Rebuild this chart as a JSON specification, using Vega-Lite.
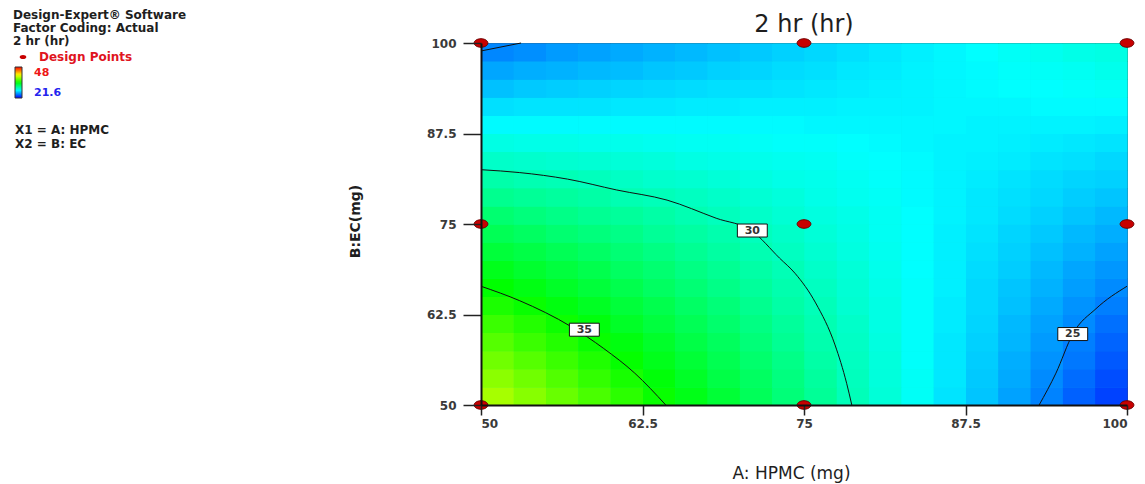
{
  "$schema": "https://vega.github.io/schema/vega-lite/v6.json",
  "width": 646,
  "height": 362,
  "autosize": {"type": "none"},
  "padding": {"left": 481, "top": 43, "right": 18, "bottom": 79},
  "background": "white",
  "title": {"text": "2 hr (hr)", "font": "DejaVu Sans", "fontSize": 24, "fontWeight": "normal", "color": "#1e1e1e", "anchor": "middle", "offset": 10, "dy": 37},
  "config": {
    "view": {"stroke": "#444", "strokeWidth": 1, "fill": "#10e0d0"},
    "axis": {"grid": false, "domainColor": "#111", "domainWidth": 2, "tickColor": "#222", "tickWidth": 1.5, "labelFont": "DejaVu Sans", "labelFontWeight": "bold", "labelFontSize": 12, "labelColor": "#3a3a3a", "titleColor": "#1e1e1e"}
  },
  "datasets": {
    "grid": [
        {"x":50,"y":50,"v":39.1},{"x":52.5,"y":50,"v":38.3},{"x":55,"y":50,"v":37.5},{"x":57.5,"y":50,"v":36.7},{"x":60,"y":50,"v":35.9},{"x":62.5,"y":50,"v":35.0},{"x":65,"y":50,"v":34.2},{"x":67.5,"y":50,"v":33.4},{"x":70,"y":50,"v":32.5},{"x":72.5,"y":50,"v":31.7},{"x":75,"y":50,"v":30.9},{"x":77.5,"y":50,"v":30.0},{"x":80,"y":50,"v":29.2},{"x":82.5,"y":50,"v":28.4},{"x":85,"y":50,"v":27.5},{"x":87.5,"y":50,"v":26.7},{"x":90,"y":50,"v":25.8},{"x":92.5,"y":50,"v":25.0},{"x":95,"y":50,"v":24.1},{"x":97.5,"y":50,"v":23.3},
        {"x":50,"y":52.5,"v":38.4},{"x":52.5,"y":52.5,"v":37.7},{"x":55,"y":52.5,"v":36.9},{"x":57.5,"y":52.5,"v":36.1},{"x":60,"y":52.5,"v":35.4},{"x":62.5,"y":52.5,"v":34.6},{"x":65,"y":52.5,"v":33.8},{"x":67.5,"y":52.5,"v":33.0},{"x":70,"y":52.5,"v":32.3},{"x":72.5,"y":52.5,"v":31.5},{"x":75,"y":52.5,"v":30.7},{"x":77.5,"y":52.5,"v":29.9},{"x":80,"y":52.5,"v":29.1},{"x":82.5,"y":52.5,"v":28.4},{"x":85,"y":52.5,"v":27.6},{"x":87.5,"y":52.5,"v":26.8},{"x":90,"y":52.5,"v":26.0},{"x":92.5,"y":52.5,"v":25.2},{"x":95,"y":52.5,"v":24.4},{"x":97.5,"y":52.5,"v":23.6},
        {"x":50,"y":55,"v":37.7},{"x":52.5,"y":55,"v":37.0},{"x":55,"y":55,"v":36.3},{"x":57.5,"y":55,"v":35.6},{"x":60,"y":55,"v":34.9},{"x":62.5,"y":55,"v":34.1},{"x":65,"y":55,"v":33.4},{"x":67.5,"y":55,"v":32.7},{"x":70,"y":55,"v":32.0},{"x":72.5,"y":55,"v":31.3},{"x":75,"y":55,"v":30.5},{"x":77.5,"y":55,"v":29.8},{"x":80,"y":55,"v":29.1},{"x":82.5,"y":55,"v":28.3},{"x":85,"y":55,"v":27.6},{"x":87.5,"y":55,"v":26.9},{"x":90,"y":55,"v":26.1},{"x":92.5,"y":55,"v":25.4},{"x":95,"y":55,"v":24.7},{"x":97.5,"y":55,"v":23.9},
        {"x":50,"y":57.5,"v":37.0},{"x":52.5,"y":57.5,"v":36.3},{"x":55,"y":57.5,"v":35.7},{"x":57.5,"y":57.5,"v":35.0},{"x":60,"y":57.5,"v":34.4},{"x":62.5,"y":57.5,"v":33.7},{"x":65,"y":57.5,"v":33.0},{"x":67.5,"y":57.5,"v":32.4},{"x":70,"y":57.5,"v":31.7},{"x":72.5,"y":57.5,"v":31.0},{"x":75,"y":57.5,"v":30.3},{"x":77.5,"y":57.5,"v":29.7},{"x":80,"y":57.5,"v":29.0},{"x":82.5,"y":57.5,"v":28.3},{"x":85,"y":57.5,"v":27.6},{"x":87.5,"y":57.5,"v":27.0},{"x":90,"y":57.5,"v":26.3},{"x":92.5,"y":57.5,"v":25.6},{"x":95,"y":57.5,"v":24.9},{"x":97.5,"y":57.5,"v":24.2},
        {"x":50,"y":60,"v":36.3},{"x":52.5,"y":60,"v":35.7},{"x":55,"y":60,"v":35.1},{"x":57.5,"y":60,"v":34.5},{"x":60,"y":60,"v":33.8},{"x":62.5,"y":60,"v":33.2},{"x":65,"y":60,"v":32.6},{"x":67.5,"y":60,"v":32.0},{"x":70,"y":60,"v":31.4},{"x":72.5,"y":60,"v":30.8},{"x":75,"y":60,"v":30.2},{"x":77.5,"y":60,"v":29.6},{"x":80,"y":60,"v":28.9},{"x":82.5,"y":60,"v":28.3},{"x":85,"y":60,"v":27.7},{"x":87.5,"y":60,"v":27.1},{"x":90,"y":60,"v":26.4},{"x":92.5,"y":60,"v":25.8},{"x":95,"y":60,"v":25.2},{"x":97.5,"y":60,"v":24.5},
        {"x":50,"y":62.5,"v":35.5},{"x":52.5,"y":62.5,"v":35.0},{"x":55,"y":62.5,"v":34.4},{"x":57.5,"y":62.5,"v":33.9},{"x":60,"y":62.5,"v":33.3},{"x":62.5,"y":62.5,"v":32.8},{"x":65,"y":62.5,"v":32.2},{"x":67.5,"y":62.5,"v":31.7},{"x":70,"y":62.5,"v":31.1},{"x":72.5,"y":62.5,"v":30.5},{"x":75,"y":62.5,"v":30.0},{"x":77.5,"y":62.5,"v":29.4},{"x":80,"y":62.5,"v":28.9},{"x":82.5,"y":62.5,"v":28.3},{"x":85,"y":62.5,"v":27.7},{"x":87.5,"y":62.5,"v":27.2},{"x":90,"y":62.5,"v":26.6},{"x":92.5,"y":62.5,"v":26.0},{"x":95,"y":62.5,"v":25.4},{"x":97.5,"y":62.5,"v":24.9},
        {"x":50,"y":65,"v":34.8},{"x":52.5,"y":65,"v":34.3},{"x":55,"y":65,"v":33.8},{"x":57.5,"y":65,"v":33.3},{"x":60,"y":65,"v":32.8},{"x":62.5,"y":65,"v":32.3},{"x":65,"y":65,"v":31.8},{"x":67.5,"y":65,"v":31.3},{"x":70,"y":65,"v":30.8},{"x":72.5,"y":65,"v":30.3},{"x":75,"y":65,"v":29.8},{"x":77.5,"y":65,"v":29.3},{"x":80,"y":65,"v":28.8},{"x":82.5,"y":65,"v":28.3},{"x":85,"y":65,"v":27.8},{"x":87.5,"y":65,"v":27.2},{"x":90,"y":65,"v":26.7},{"x":92.5,"y":65,"v":26.2},{"x":95,"y":65,"v":25.7},{"x":97.5,"y":65,"v":25.2},
        {"x":50,"y":67.5,"v":34.1},{"x":52.5,"y":67.5,"v":33.6},{"x":55,"y":67.5,"v":33.2},{"x":57.5,"y":67.5,"v":32.8},{"x":60,"y":67.5,"v":32.3},{"x":62.5,"y":67.5,"v":31.9},{"x":65,"y":67.5,"v":31.4},{"x":67.5,"y":67.5,"v":31.0},{"x":70,"y":67.5,"v":30.5},{"x":72.5,"y":67.5,"v":30.1},{"x":75,"y":67.5,"v":29.6},{"x":77.5,"y":67.5,"v":29.2},{"x":80,"y":67.5,"v":28.7},{"x":82.5,"y":67.5,"v":28.2},{"x":85,"y":67.5,"v":27.8},{"x":87.5,"y":67.5,"v":27.3},{"x":90,"y":67.5,"v":26.9},{"x":92.5,"y":67.5,"v":26.4},{"x":95,"y":67.5,"v":25.9},{"x":97.5,"y":67.5,"v":25.5},
        {"x":50,"y":70,"v":33.3},{"x":52.5,"y":70,"v":33.0},{"x":55,"y":70,"v":32.6},{"x":57.5,"y":70,"v":32.2},{"x":60,"y":70,"v":31.8},{"x":62.5,"y":70,"v":31.4},{"x":65,"y":70,"v":31.0},{"x":67.5,"y":70,"v":30.6},{"x":70,"y":70,"v":30.2},{"x":72.5,"y":70,"v":29.8},{"x":75,"y":70,"v":29.4},{"x":77.5,"y":70,"v":29.0},{"x":80,"y":70,"v":28.6},{"x":82.5,"y":70,"v":28.2},{"x":85,"y":70,"v":27.8},{"x":87.5,"y":70,"v":27.4},{"x":90,"y":70,"v":27.0},{"x":92.5,"y":70,"v":26.6},{"x":95,"y":70,"v":26.2},{"x":97.5,"y":70,"v":25.8},
        {"x":50,"y":72.5,"v":32.6},{"x":52.5,"y":72.5,"v":32.3},{"x":55,"y":72.5,"v":31.9},{"x":57.5,"y":72.5,"v":31.6},{"x":60,"y":72.5,"v":31.3},{"x":62.5,"y":72.5,"v":30.9},{"x":65,"y":72.5,"v":30.6},{"x":67.5,"y":72.5,"v":30.3},{"x":70,"y":72.5,"v":29.9},{"x":72.5,"y":72.5,"v":29.6},{"x":75,"y":72.5,"v":29.2},{"x":77.5,"y":72.5,"v":28.9},{"x":80,"y":72.5,"v":28.5},{"x":82.5,"y":72.5,"v":28.2},{"x":85,"y":72.5,"v":27.8},{"x":87.5,"y":72.5,"v":27.5},{"x":90,"y":72.5,"v":27.1},{"x":92.5,"y":72.5,"v":26.8},{"x":95,"y":72.5,"v":26.4},{"x":97.5,"y":72.5,"v":26.1},
        {"x":50,"y":75,"v":31.9},{"x":52.5,"y":75,"v":31.6},{"x":55,"y":75,"v":31.3},{"x":57.5,"y":75,"v":31.0},{"x":60,"y":75,"v":30.8},{"x":62.5,"y":75,"v":30.5},{"x":65,"y":75,"v":30.2},{"x":67.5,"y":75,"v":29.9},{"x":70,"y":75,"v":29.6},{"x":72.5,"y":75,"v":29.3},{"x":75,"y":75,"v":29.0},{"x":77.5,"y":75,"v":28.8},{"x":80,"y":75,"v":28.5},{"x":82.5,"y":75,"v":28.2},{"x":85,"y":75,"v":27.9},{"x":87.5,"y":75,"v":27.6},{"x":90,"y":75,"v":27.3},{"x":92.5,"y":75,"v":27.0},{"x":95,"y":75,"v":26.7},{"x":97.5,"y":75,"v":26.4},
        {"x":50,"y":77.5,"v":31.1},{"x":52.5,"y":77.5,"v":30.9},{"x":55,"y":77.5,"v":30.7},{"x":57.5,"y":77.5,"v":30.5},{"x":60,"y":77.5,"v":30.2},{"x":62.5,"y":77.5,"v":30.0},{"x":65,"y":77.5,"v":29.8},{"x":67.5,"y":77.5,"v":29.6},{"x":70,"y":77.5,"v":29.3},{"x":72.5,"y":77.5,"v":29.1},{"x":75,"y":77.5,"v":28.8},{"x":77.5,"y":77.5,"v":28.6},{"x":80,"y":77.5,"v":28.4},{"x":82.5,"y":77.5,"v":28.1},{"x":85,"y":77.5,"v":27.9},{"x":87.5,"y":77.5,"v":27.6},{"x":90,"y":77.5,"v":27.4},{"x":92.5,"y":77.5,"v":27.2},{"x":95,"y":77.5,"v":26.9},{"x":97.5,"y":77.5,"v":26.7},
        {"x":50,"y":80,"v":30.4},{"x":52.5,"y":80,"v":30.2},{"x":55,"y":80,"v":30.1},{"x":57.5,"y":80,"v":29.9},{"x":60,"y":80,"v":29.7},{"x":62.5,"y":80,"v":29.5},{"x":65,"y":80,"v":29.4},{"x":67.5,"y":80,"v":29.2},{"x":70,"y":80,"v":29.0},{"x":72.5,"y":80,"v":28.8},{"x":75,"y":80,"v":28.7},{"x":77.5,"y":80,"v":28.5},{"x":80,"y":80,"v":28.3},{"x":82.5,"y":80,"v":28.1},{"x":85,"y":80,"v":27.9},{"x":87.5,"y":80,"v":27.7},{"x":90,"y":80,"v":27.5},{"x":92.5,"y":80,"v":27.3},{"x":95,"y":80,"v":27.1},{"x":97.5,"y":80,"v":27.0},
        {"x":50,"y":82.5,"v":29.6},{"x":52.5,"y":82.5,"v":29.5},{"x":55,"y":82.5,"v":29.4},{"x":57.5,"y":82.5,"v":29.3},{"x":60,"y":82.5,"v":29.2},{"x":62.5,"y":82.5,"v":29.1},{"x":65,"y":82.5,"v":28.9},{"x":67.5,"y":82.5,"v":28.8},{"x":70,"y":82.5,"v":28.7},{"x":72.5,"y":82.5,"v":28.6},{"x":75,"y":82.5,"v":28.5},{"x":77.5,"y":82.5,"v":28.3},{"x":80,"y":82.5,"v":28.2},{"x":82.5,"y":82.5,"v":28.1},{"x":85,"y":82.5,"v":27.9},{"x":87.5,"y":82.5,"v":27.8},{"x":90,"y":82.5,"v":27.7},{"x":92.5,"y":82.5,"v":27.5},{"x":95,"y":82.5,"v":27.4},{"x":97.5,"y":82.5,"v":27.2},
        {"x":50,"y":85,"v":28.9},{"x":52.5,"y":85,"v":28.8},{"x":55,"y":85,"v":28.8},{"x":57.5,"y":85,"v":28.7},{"x":60,"y":85,"v":28.7},{"x":62.5,"y":85,"v":28.6},{"x":65,"y":85,"v":28.5},{"x":67.5,"y":85,"v":28.5},{"x":70,"y":85,"v":28.4},{"x":72.5,"y":85,"v":28.3},{"x":75,"y":85,"v":28.3},{"x":77.5,"y":85,"v":28.2},{"x":80,"y":85,"v":28.1},{"x":82.5,"y":85,"v":28.0},{"x":85,"y":85,"v":27.9},{"x":87.5,"y":85,"v":27.9},{"x":90,"y":85,"v":27.8},{"x":92.5,"y":85,"v":27.7},{"x":95,"y":85,"v":27.6},{"x":97.5,"y":85,"v":27.5},
        {"x":50,"y":87.5,"v":28.1},{"x":52.5,"y":87.5,"v":28.1},{"x":55,"y":87.5,"v":28.1},{"x":57.5,"y":87.5,"v":28.1},{"x":60,"y":87.5,"v":28.1},{"x":62.5,"y":87.5,"v":28.1},{"x":65,"y":87.5,"v":28.1},{"x":67.5,"y":87.5,"v":28.1},{"x":70,"y":87.5,"v":28.1},{"x":72.5,"y":87.5,"v":28.1},{"x":75,"y":87.5,"v":28.0},{"x":77.5,"y":87.5,"v":28.0},{"x":80,"y":87.5,"v":28.0},{"x":82.5,"y":87.5,"v":28.0},{"x":85,"y":87.5,"v":28.0},{"x":87.5,"y":87.5,"v":27.9},{"x":90,"y":87.5,"v":27.9},{"x":92.5,"y":87.5,"v":27.9},{"x":95,"y":87.5,"v":27.9},{"x":97.5,"y":87.5,"v":27.8},
        {"x":50,"y":90,"v":27.4},{"x":52.5,"y":90,"v":27.5},{"x":55,"y":90,"v":27.5},{"x":57.5,"y":90,"v":27.5},{"x":60,"y":90,"v":27.6},{"x":62.5,"y":90,"v":27.6},{"x":65,"y":90,"v":27.7},{"x":67.5,"y":90,"v":27.7},{"x":70,"y":90,"v":27.8},{"x":72.5,"y":90,"v":27.8},{"x":75,"y":90,"v":27.8},{"x":77.5,"y":90,"v":27.9},{"x":80,"y":90,"v":27.9},{"x":82.5,"y":90,"v":27.9},{"x":85,"y":90,"v":28.0},{"x":87.5,"y":90,"v":28.0},{"x":90,"y":90,"v":28.0},{"x":92.5,"y":90,"v":28.1},{"x":95,"y":90,"v":28.1},{"x":97.5,"y":90,"v":28.1},
        {"x":50,"y":92.5,"v":26.6},{"x":52.5,"y":92.5,"v":26.8},{"x":55,"y":92.5,"v":26.9},{"x":57.5,"y":92.5,"v":27.0},{"x":60,"y":92.5,"v":27.1},{"x":62.5,"y":92.5,"v":27.2},{"x":65,"y":92.5,"v":27.3},{"x":67.5,"y":92.5,"v":27.4},{"x":70,"y":92.5,"v":27.4},{"x":72.5,"y":92.5,"v":27.5},{"x":75,"y":92.5,"v":27.6},{"x":77.5,"y":92.5,"v":27.7},{"x":80,"y":92.5,"v":27.8},{"x":82.5,"y":92.5,"v":27.9},{"x":85,"y":92.5,"v":28.0},{"x":87.5,"y":92.5,"v":28.1},{"x":90,"y":92.5,"v":28.2},{"x":92.5,"y":92.5,"v":28.2},{"x":95,"y":92.5,"v":28.3},{"x":97.5,"y":92.5,"v":28.4},
        {"x":50,"y":95,"v":25.9},{"x":52.5,"y":95,"v":26.1},{"x":55,"y":95,"v":26.2},{"x":57.5,"y":95,"v":26.4},{"x":60,"y":95,"v":26.5},{"x":62.5,"y":95,"v":26.7},{"x":65,"y":95,"v":26.8},{"x":67.5,"y":95,"v":27.0},{"x":70,"y":95,"v":27.1},{"x":72.5,"y":95,"v":27.3},{"x":75,"y":95,"v":27.4},{"x":77.5,"y":95,"v":27.6},{"x":80,"y":95,"v":27.7},{"x":82.5,"y":95,"v":27.9},{"x":85,"y":95,"v":28.0},{"x":87.5,"y":95,"v":28.1},{"x":90,"y":95,"v":28.3},{"x":92.5,"y":95,"v":28.4},{"x":95,"y":95,"v":28.5},{"x":97.5,"y":95,"v":28.7},
        {"x":50,"y":97.5,"v":25.1},{"x":52.5,"y":97.5,"v":25.3},{"x":55,"y":97.5,"v":25.6},{"x":57.5,"y":97.5,"v":25.8},{"x":60,"y":97.5,"v":26.0},{"x":62.5,"y":97.5,"v":26.2},{"x":65,"y":97.5,"v":26.4},{"x":67.5,"y":97.5,"v":26.6},{"x":70,"y":97.5,"v":26.8},{"x":72.5,"y":97.5,"v":27.0},{"x":75,"y":97.5,"v":27.2},{"x":77.5,"y":97.5,"v":27.4},{"x":80,"y":97.5,"v":27.6},{"x":82.5,"y":97.5,"v":27.8},{"x":85,"y":97.5,"v":28.0},{"x":87.5,"y":97.5,"v":28.2},{"x":90,"y":97.5,"v":28.4},{"x":92.5,"y":97.5,"v":28.6},{"x":95,"y":97.5,"v":28.8},{"x":97.5,"y":97.5,"v":28.9}
    ]
  },
  "layer": [
    {
      "data": {"name": "grid"},
      "mark": {"type": "rect", "strokeWidth": 0},
      "encoding": {
        "x": {"field": "x", "type": "quantitative", "bin": {"binned": true, "step": 2.5},
              "scale": {"domain": [50, 100], "nice": false, "zero": false},
              "axis": {"values": [50, 62.5, 75, 87.5, 100], "labelExpr": "toString(datum.value)", "tickSize": 10, "labelPadding": 3,
                       "title": "A: HPMC (mg)", "titleFont": "DejaVu Sans", "titleFontSize": 17, "titleFontWeight": "normal",
                       "titleX": 310, "titleY": 73, "titleBaseline": "alphabetic", "titleAnchor": null, "titleAlign": "center"}},
        "y": {"field": "y", "type": "quantitative", "bin": {"binned": true, "step": 2.5},
              "scale": {"domain": [50, 100], "nice": false, "zero": false},
              "axis": {"values": [50, 62.5, 75, 87.5, 100], "labelExpr": "toString(datum.value)", "tickSize": 18, "labelPadding": 7,
                       "title": "B:EC(mg)", "titleFont": "DejaVu Sans", "titleFontSize": 14, "titleFontWeight": "bold",
                       "titleX": -126, "titleY": 178, "titleBaseline": "middle", "titleAlign": "center", "titleAngle": 270}},
        "color": {"field": "v", "type": "quantitative",
                  "scale": {"domain": [21.6, 28.2, 34.8, 41.4, 48], "range": ["#0000ff", "#00ffff", "#00ff00", "#ffff00", "#ff0000"], "interpolate": "rgb"},
                  "legend": {"type": "gradient", "orient": "none", "legendX": -466, "legendY": 24, "direction": "vertical", "gradientLength": 31, "gradientThickness": 7,
                             "gradientStrokeColor": "#333", "gradientStrokeWidth": 1, "values": [21.6, 48], "labelExpr": "toString(datum.value)",
                             "labelFont": "DejaVu Sans", "labelFontWeight": "bold", "labelFontSize": 11, "labelOffset": 12, "labelOverlap": false,
                             "title": ["X1 = A: HPMC", "X2 = B: EC"], "titleOrient": "bottom", "titlePadding": 26,
                             "titleFont": "DejaVu Sans", "titleFontSize": 12, "titleFontWeight": "bold", "titleColor": "#1e1e1e", "titleLineHeight": 14,
                             "encode": {"labels": {"update": {"fill": {"signal": "datum.value > 30 ? '#ee1515' : '#2424ee'"}}}}}}
      }
    },
    {
      "data": {"name": "grid"},
      "mark": {"type": "rect", "strokeWidth": 0},
      "encoding": {
        "x": {"field": "x", "type": "quantitative", "bin": {"binned": true, "step": 2.5}},
        "y": {"field": "y", "type": "quantitative", "bin": {"binned": true, "step": 2.5}},
        "color": {"field": "v", "type": "quantitative"}
      }
    },
    {
      "data": {"values": [
        {"c": "30", "s": 1, "x": 50, "y": 82.5}, {"c": "30", "s": 2, "x": 53, "y": 82.1}, {"c": "30", "s": 3, "x": 56.7, "y": 81.2},
        {"c": "30", "s": 4, "x": 60.5, "y": 79.7}, {"c": "30", "s": 5, "x": 64.4, "y": 78.3}, {"c": "30", "s": 6, "x": 68.2, "y": 75.8},
        {"c": "30", "s": 7, "x": 71, "y": 74}, {"c": "30", "s": 8, "x": 73.1, "y": 70.3}, {"c": "30", "s": 9, "x": 74.3, "y": 68.2},
        {"c": "30", "s": 10, "x": 75.9, "y": 64.1}, {"c": "30", "s": 11, "x": 77.4, "y": 58.3}, {"c": "30", "s": 12, "x": 78.3, "y": 53},
        {"c": "30", "s": 13, "x": 78.7, "y": 50},
        {"c": "35", "s": 1, "x": 50, "y": 66.4}, {"c": "35", "s": 2, "x": 53, "y": 64.4}, {"c": "35", "s": 3, "x": 57, "y": 60.8},
        {"c": "35", "s": 4, "x": 59.5, "y": 57.8}, {"c": "35", "s": 5, "x": 61.9, "y": 54.4}, {"c": "35", "s": 6, "x": 64.3, "y": 50},
        {"c": "25a", "s": 1, "x": 93.2, "y": 50}, {"c": "25a", "s": 2, "x": 94.5, "y": 54.4}, {"c": "25a", "s": 3, "x": 95.8, "y": 59.8},
        {"c": "25a", "s": 4, "x": 97.6, "y": 63.3}, {"c": "25a", "s": 5, "x": 100, "y": 66.4},
        {"c": "25b", "s": 1, "x": 50, "y": 98.9}, {"c": "25b", "s": 2, "x": 53.1, "y": 100}
      ]},
      "mark": {"type": "line", "color": "#111", "strokeWidth": 1, "interpolate": "monotone"},
      "encoding": {
        "x": {"field": "x", "type": "quantitative"},
        "y": {"field": "y", "type": "quantitative"},
        "detail": {"field": "c", "type": "nominal"},
        "order": {"field": "s", "type": "quantitative"}
      }
    },
    {
      "data": {"values": [
        {"x": 58.0, "y": 60.4, "t": "35"}, {"x": 71.0, "y": 74.1, "t": "30"}, {"x": 95.8, "y": 59.8, "t": "25"}
      ]},
      "layer": [
        {"mark": {"type": "point", "shape": "M-1.15,-0.5H1.15V0.5H-1.15Z", "size": 676, "filled": true, "fill": "white", "stroke": "#111", "strokeWidth": 1, "opacity": 1},
         "encoding": {"x": {"field": "x", "type": "quantitative"}, "y": {"field": "y", "type": "quantitative"}}},
        {"mark": {"type": "text", "font": "DejaVu Sans", "fontSize": 11, "fontWeight": "bold", "color": "#333", "baseline": "middle", "align": "center"},
         "encoding": {"x": {"field": "x", "type": "quantitative"}, "y": {"field": "y", "type": "quantitative"}, "text": {"field": "t"}}}
      ]
    },
    {
      "data": {"values": [
        {"x": 50, "y": 50}, {"x": 50, "y": 75}, {"x": 50, "y": 100},
        {"x": 75, "y": 50}, {"x": 75, "y": 75}, {"x": 75, "y": 100},
        {"x": 100, "y": 50}, {"x": 100, "y": 75}, {"x": 100, "y": 100}
      ]},
      "mark": {"type": "point", "filled": true, "size": 190, "fill": "#c80000", "stroke": "#6e0000", "strokeWidth": 1, "opacity": 1},
      "encoding": {
        "x": {"field": "x", "type": "quantitative"},
        "y": {"field": "y", "type": "quantitative"},
        "shape": {"datum": "Design Points", "type": "nominal",
                  "scale": {"range": ["M-1,0A1,0.62,0,1,0,1,0A1,0.62,0,1,0,-1,0Z"]},
                  "legend": {"orient": "none", "legendX": -468, "legendY": -33,
                             "title": ["Design-Expert® Software", "Factor Coding: Actual", "2 hr (hr)"],
                             "titleFont": "DejaVu Sans", "titleFontSize": 12, "titleFontWeight": "bold", "titleColor": "#1e1e1e", "titleLineHeight": 13, "titlePadding": 3,
                             "labelFont": "DejaVu Sans", "labelFontSize": 12, "labelFontWeight": "bold", "labelColor": "#e0141e", "labelOffset": 10,
                             "symbolSize": 45, "symbolFillColor": "#b40000", "symbolStrokeColor": "#6e0000", "symbolOffset": 4}}
      }
    }
  ]
}
